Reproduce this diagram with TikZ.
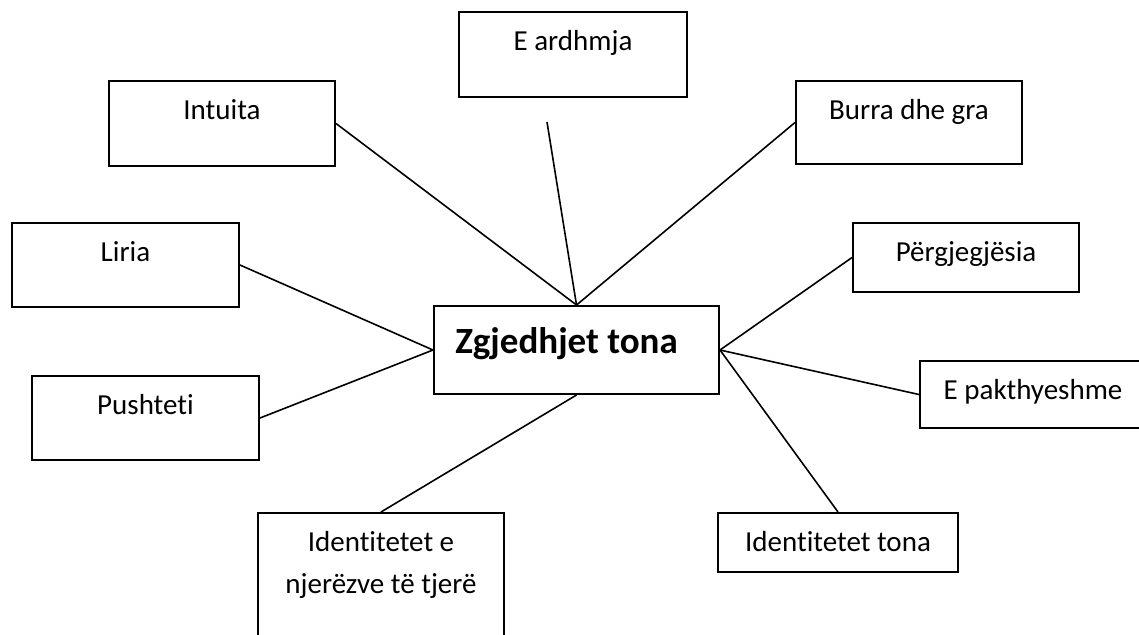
\documentclass[tikz,border=0pt]{standalone}
\usepackage{fontspec}
\setmainfont{Carlito}[Ligatures=NoCommon]
\begin{document}
\begin{tikzpicture}[x=0.5pt,y=-0.5pt,
  box/.style={draw,line width=1pt,inner sep=0pt,anchor=north west,align=center,
    font=\fontsize{14.5}{21}\selectfont,text height=19.25pt},
  link/.style={line width=0.8pt}]
\useasboundingbox (0,0) rectangle (1139,634);
\node[box,minimum width=114pt,text depth=23.25pt] (future) at (458,11) {E ardhmja};
\node[box,minimum width=113pt,text depth=23.25pt] (intuition) at (108,80) {Intuita};
\node[box,minimum width=113pt,text depth=22.25pt] (people) at (795,80) {Burra dhe gra};
\node[box,minimum width=113.5pt,text depth=22.75pt] (freedom) at (11,222) {Liria};
\node[box,minimum width=113.5pt,text depth=22.75pt] (power) at (31,375) {Pushteti};
\node[box,minimum width=113pt,text depth=15.25pt] (duty) at (852,222) {Përgjegjësia};
\node[box,minimum width=113pt,text depth=14.25pt] (final) at (919,360) {E pakthyeshme};
\node[box,minimum width=142.5pt,text height=23.5pt,text depth=20.5pt,
  font=\fontsize{18.5}{22}\selectfont\bfseries] (choice) at (433,305) {Zgjedhjet tona\hspace*{10pt}};
\node[box,minimum width=120pt,text depth=10.25pt] (self) at (717,512) {Identitetet tona};
\node[box,minimum width=123pt,text height=40pt,text depth=35pt] (others) at (257,512) {Identitetet e\\njerëzve të tjerë};
\coordinate (futureend) at (547,122);
% lidhjet
\draw[link] (intuition.east) -- (choice.north);
\draw[link] (futureend) -- (choice.north);
\draw[link] (people.west) -- (choice.north);
\draw[link] (freedom.east) -- (choice.west);
\draw[link] (power.east) -- (choice.west);
\draw[link] (duty.west) -- (choice.east);
\draw[link] (final.west) -- (choice.east);
\draw[link] (self.north) -- (choice.east);
\draw[link] (others.north) -- (choice.south);
\end{tikzpicture}
\end{document}
